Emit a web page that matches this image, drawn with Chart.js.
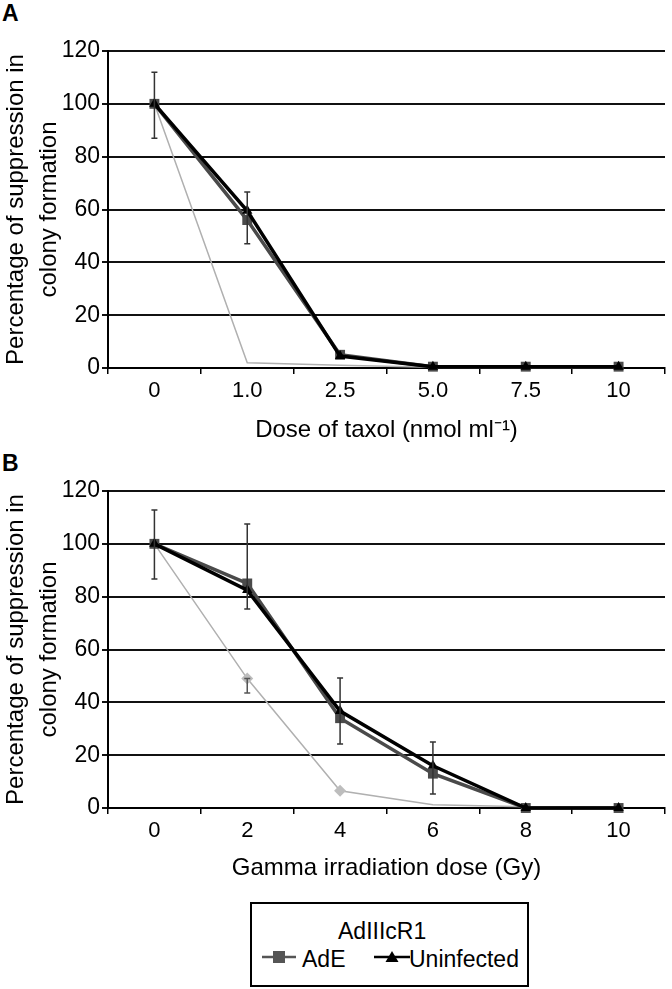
<!DOCTYPE html>
<html>
<head>
<meta charset="utf-8">
<script src="https://cdn.jsdelivr.net/npm/chart.js@4"></script>
<style>
  body { margin: 0; background: #fff; font-family: "Liberation Sans", Arial, sans-serif; }
  #wrap { position: relative; width: 672px; height: 989px; overflow: hidden; }
  .panel { position: absolute; left: 0; width: 672px; }
  .lbl { position: absolute; left: 2px; font-weight: bold; font-size: 23px; line-height: 1; }
  #legend { position: absolute; left: 250px; top: 902px; width: 275px; height: 81px; border: 2px solid #000; font-size: 23px; }
  #legend div, #legend svg { position: absolute; line-height: 1; white-space: nowrap; }
</style>
</head>
<body>
<div id="wrap">
  <div class="lbl" style="top:2px">A</div>
  <div class="panel" style="top:0;height:445px"><canvas id="chartA"></canvas></div>
  <div class="lbl" style="top:452px">B</div>
  <div class="panel" style="top:440px;height:443px"><canvas id="chartB"></canvas></div>
  <div id="legend">
    <div style="left:86px;top:16px">AdIIIcR1</div>
    <svg style="left:10px;top:46px" width="34" height="14"><line x1="0" y1="7" x2="34" y2="7" stroke="#555" stroke-width="2.5"/><rect x="11" y="1" width="12" height="12" fill="#555"/></svg>
    <div style="left:50px;top:44px">AdE</div>
    <svg style="left:122px;top:46px" width="36" height="14"><line x1="0" y1="7" x2="36" y2="7" stroke="#000" stroke-width="2.5"/><polygon points="18,1 24.5,12 11.5,12" fill="#000"/></svg>
    <div style="left:157px;top:44px">Uninfected</div>
  </div>
</div>
<script>
const taxolDoses = ['0', '1.0', '2.5', '5.0', '7.5', '10'];
const gammaDoses = ['0', '2', '4', '6', '8', '10'];

const taxolAdE = [100, 56, 5, 0.5, 0.5, 0.5];
const taxolUninfected = [100, 59.5, 4.5, 0.5, 0.5, 0.5];
const taxolAdIIIcR1 = [100, 2, 1, 0.3, 0.2, 0.2];
const taxolErrLow = [87, 47, null, null, null, null];
const taxolErrHigh = [112, 66.6, null, null, null, null];

const gammaAdE = [100, 85, 34, 13, 0, 0];
const gammaUninfected = [100, 82.5, 36.7, 16, 0, 0];
const gammaAdIIIcR1 = [100, 49, 6.5, 1.2, 0.5, 0.3];
const gammaErrLow = [86.7, 75.3, 24.2, 5.3, null, null];
const gammaErrHigh = [112.8, 107.5, 49.2, 25, null, null];
const gammaGreyErrLow = [null, 43.5, null, null, null, null];
const gammaGreyErrHigh = [null, 49, null, null, null, null];

const yTicks = [0, 20, 40, 60, 80, 100, 120];

Chart.defaults.font.family = '"Liberation Sans", Arial, sans-serif';
Chart.defaults.color = '#000';

// error bars, drawn from the dataset's errLow/errHigh arrays
const errorBars = {
  id: 'errorBars',
  afterDatasetsDraw(chart) {
    const ctx = chart.ctx, y = chart.scales.y;
    chart.data.datasets.forEach((ds, di) => {
      if (!ds.errLow) return;
      const meta = chart.getDatasetMeta(di);
      ctx.save();
      ctx.strokeStyle = ds.errColor || '#333';
      ctx.lineWidth = 1.5;
      ds.errLow.forEach((lo, i) => {
        if (lo == null) return;
        const x = meta.data[i].x;
        const y1 = y.getPixelForValue(lo), y2 = y.getPixelForValue(ds.errHigh[i]);
        ctx.beginPath();
        ctx.moveTo(x, y1); ctx.lineTo(x, y2);
        ctx.moveTo(x - 3, y1); ctx.lineTo(x + 3, y1);
        ctx.moveTo(x - 3, y2); ctx.lineTo(x + 3, y2);
        ctx.stroke();
      });
      ctx.restore();
    });
  }
};

function makeChart(id, labels, adE, uninf, grey, errLow, errHigh, greyLow, greyHigh, xTitle, greyMarkers, canvasH) {
  return new Chart(document.getElementById(id), {
    type: 'line',
    data: {
      labels: labels,
      datasets: [
        { label: 'AdIIIcR1', data: grey, borderColor: '#b0b0b0', backgroundColor: '#bdbdbd',
          borderWidth: 1.5, pointStyle: 'rectRot', pointRadius: greyMarkers ? [0, 6, 6, 0, 0, 0] : 0,
          pointBorderWidth: 0, order: 3, clip: false, errLow: greyLow, errHigh: greyHigh, errColor: '#555' },
        { label: 'AdE', data: adE, borderColor: '#4a4a4a', backgroundColor: '#4a4a4a',
          borderWidth: 3.5, pointStyle: 'rect', pointRadius: 7, pointBorderWidth: 0, order: 2, clip: false,
          errLow: errLow, errHigh: errHigh },
        { label: 'Uninfected', data: uninf, borderColor: '#000', backgroundColor: '#000',
          borderWidth: 3.5, pointStyle: 'triangle', pointRadius: 6, pointBorderWidth: 0, order: 1, clip: false }
      ]
    },
    options: {
      responsive: true,
      maintainAspectRatio: false,
      animation: false,
      layout: { padding: { top: 51, right: 4, left: 0, bottom: 0 } },
      plugins: { legend: { display: false }, tooltip: { enabled: false } },
      scales: {
        x: {
          offset: true,
          grid: { offset: true, drawOnChartArea: false, drawTicks: true, tickLength: 6, color: '#000', lineWidth: 1.5 },
          border: { color: '#000', width: 2 },
          ticks: { font: { size: 22 }, padding: 4 },
          title: { display: true, text: xTitle, font: { size: 24 }, padding: { top: 0, bottom: 0 } },
          afterFit(s) { s.height = canvasH - 368; }
        },
        y: {
          min: 0, max: 120,
          afterBuildTicks(s) { s.ticks = yTicks.map(v => ({ value: v })); },
          grid: { color: '#111', lineWidth: 2, tickLength: 6 },
          border: { color: '#000', width: 2 },
          ticks: { font: { size: 23 }, padding: 2 },
          title: { display: true, text: ['Percentage of suppression in', 'colony formation'],
                   font: { size: 24, lineHeight: 1.36 }, padding: 0 },
          afterFit(s) { s.width = 108; }
        }
      }
    },
    plugins: [errorBars]
  });
}

makeChart('chartA', taxolDoses, taxolAdE, taxolUninfected, taxolAdIIIcR1, taxolErrLow, taxolErrHigh,
  null, null, 'Dose of taxol (nmol ml\u207B\u00B9)', false, 445);
makeChart('chartB', gammaDoses, gammaAdE, gammaUninfected, gammaAdIIIcR1, gammaErrLow, gammaErrHigh,
  gammaGreyErrLow, gammaGreyErrHigh, 'Gamma irradiation dose (Gy)', true, 443);
</script>
</body>
</html>
